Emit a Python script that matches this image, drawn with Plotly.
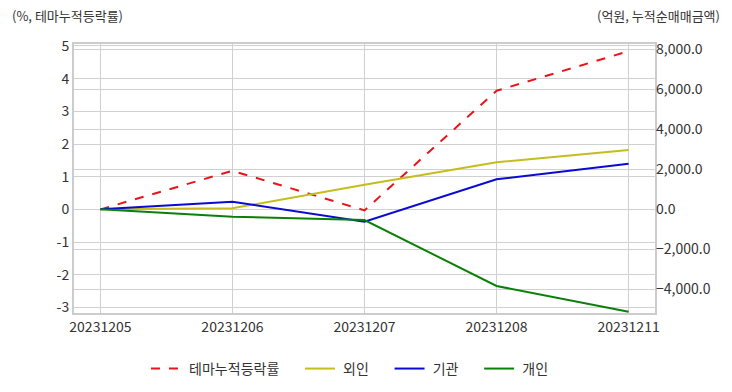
import plotly.graph_objects as go

dates = ["20231205", "20231206", "20231207", "20231208", "20231211"]
theme_rate = [0.0, 1.18, -0.03, 3.63, 4.84]
foreign = [0, 50, 1230, 2345, 2960]
institution = [0, 380, -620, 1497, 2275]
individual = [0, -370, -535, -3827, -5110]
left_tick_vals = [-3, -2, -1, 0, 1, 2, 3, 4, 5]
left_tick_text = ["-3", "-2", "-1", "0", "1", "2", "3", "4", "5"]

FONT = "Noto Sans CJK KR"
PRE = "\u00a0"
PAD = "\u00a0\u00a0\u00a0\u00a0\u00a0"

fig = go.Figure()
fig.add_trace(go.Scatter(x=dates, y=theme_rate, name=PRE + "테마누적등락률" + PAD, mode="lines",
                         line=dict(color="#e8141a", width=2, dash="dash"), yaxis="y"))
fig.add_trace(go.Scatter(x=dates, y=foreign, name=PRE + "외인" + PAD, mode="lines",
                         line=dict(color="#c6bd1a", width=2), yaxis="y2"))
fig.add_trace(go.Scatter(x=dates, y=institution, name=PRE + "기관" + PAD, mode="lines",
                         line=dict(color="#0a0ad2", width=2), yaxis="y2"))
fig.add_trace(go.Scatter(x=dates, y=individual, name=PRE + "개인", mode="lines",
                         line=dict(color="#0a800a", width=2), yaxis="y2"))

fig.update_layout(
    width=732, height=392,
    margin=dict(l=74, r=77, t=44, b=79, autoexpand=False),
    paper_bgcolor="white", plot_bgcolor="white",
    font=dict(family=FONT, size=13, color="#333333"),
    showlegend=True,
    legend=dict(orientation="h", x=0.475, xanchor="center", y=-0.208, yanchor="middle",
                font=dict(size=14, color="#333333")),
    xaxis=dict(type="category", range=[-0.2, 4.2], showgrid=True, gridcolor="#d0d0d0",
               showline=True, linecolor="#cccccc", linewidth=2, mirror=True,
               automargin=False, ticks="", tickfont=dict(size=14, color="#333333")),
    yaxis=dict(range=[-3.17, 5.06], tickmode="array", tickvals=left_tick_vals,
               ticktext=left_tick_text, showgrid=True,
               gridcolor="#d0d0d0", zeroline=False, showline=True, linecolor="#cccccc",
               linewidth=2, mirror=True, automargin=False, ticks="",
               tickfont=dict(size=14, color="#333333")),
    yaxis2=dict(range=[-5175, 8250], dtick=2000, overlaying="y", side="right",
                showgrid=True, gridcolor="#d0d0d0", zeroline=False, tickformat=",.1f",
                automargin=False, ticks="", tickfont=dict(size=14, color="#333333")),
    annotations=[
        dict(text="(%, 테마누적등락률)", xref="paper", yref="paper", x=-0.110, y=1.105,
             xanchor="left", yanchor="middle", showarrow=False,
             font=dict(size=13, color="#333333")),
        dict(text="(억원, 누적순매매금액)", xref="paper", yref="paper", x=1.115, y=1.105,
             xanchor="right", yanchor="middle", showarrow=False,
             font=dict(size=13, color="#333333")),
    ],
)
fig.write_html("out.html", config={"displayModeBar": False},
               post_script="document.body.style.margin='0';document.body.style.overflow='hidden';")
